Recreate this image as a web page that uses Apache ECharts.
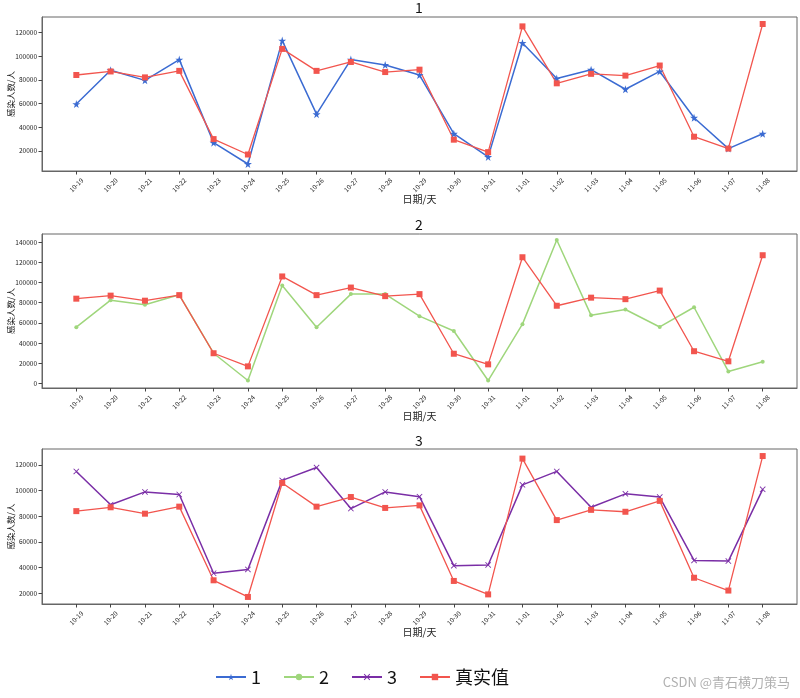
<!DOCTYPE html>
<html>
<head>
<meta charset="utf-8">
<script src="https://cdn.jsdelivr.net/npm/echarts@6/dist/echarts.min.js"></script>
<style>html,body{margin:0;padding:0;background:#fff;}#c{width:800px;height:698px;}</style>
</head>
<body>
<div id="c"></div>
<script>
const categories = ['10-19','10-20','10-21','10-22','10-23','10-24','10-25','10-26','10-27','10-28','10-29','10-30','10-31','11-01','11-02','11-03','11-04','11-05','11-06','11-07','11-08'];
const realValues = [84000, 87000, 82000, 87500, 30000, 17000, 106000, 87500, 95000, 86500, 88500, 29500, 19000, 125000, 77000, 85000, 83500, 92000, 32000, 22000, 127000];
const model1 = [59500, 88000, 79500, 97000, 27000, 9000, 113000, 51000, 97000, 92500, 84000, 34500, 15000, 111000, 81000, 88500, 72000, 87000, 48000, 22000, 34500];
const model2 = [55800, 82500, 78000, 87800, 30000, 3000, 97000, 55800, 88500, 88500, 66700, 52000, 3000, 58800, 142000, 67500, 73300, 56000, 75500, 12000, 21500];
const model3 = [115000, 89000, 99000, 97000, 35500, 38500, 108000, 118000, 86000, 99000, 95300, 41400, 42000, 104500, 115000, 87000, 97500, 95000, 45500, 45000, 101000];
const panelTitles = ['1', '2', '3'];
const yTicks1 = [20000, 40000, 60000, 80000, 100000, 120000];
const yTicks2 = [0, 20000, 40000, 60000, 80000, 100000, 120000, 140000];
const yTicks3 = [20000, 40000, 60000, 80000, 100000, 120000];
const yLabel = '感染人数/人';
const xLabel = '日期/天';
const realName = '真实值';

const FONT = '"Noto Sans CJK SC", "DejaVu Sans", sans-serif';
const colors = { m1: '#3b6bd2', m2: '#9fd67c', m3: '#7a2ea6', real: '#f2554e' };
const STAR = 'path://M50,0L61,35L98,35L68,57L79,91L50,70L21,91L32,57L2,35L39,35Z';
const XMARK = 'path://M0,1L1,0L5,4L9,0L10,1L6,5L10,9L9,10L5,6L1,10L0,9L4,5Z';

const idx = categories.map((_, i) => i);
const grids = [
  { left: 42, right: 3, top: 17, height: 154 },
  { left: 42, right: 3, top: 234, height: 154 },
  { left: 42, right: 3, top: 449, height: 155 }
].map(g => Object.assign(g, { show: true, borderColor: '#666', borderWidth: 1, backgroundColor: 'transparent', containLabel: false, outerBoundsMode: 'none' }));

const yRanges = [[3100, 132900], [-4400, 148000], [11500, 132500]];
const yTicks = [yTicks1, yTicks2, yTicks3];

const xAxes = [0, 1, 2].map(k => ({
  type: 'value', gridIndex: k, min: -1, max: 21,
  name: xLabel, nameLocation: 'middle', nameGap: 23, nameMoveOverlap: false,
  nameTextStyle: { fontFamily: FONT, fontSize: 10, color: '#222' },
  axisLine: { show: true, onZero: false, lineStyle: { color: '#666' } },
  axisTick: { show: true, length: 3.5, customValues: idx, lineStyle: { color: '#444' } },
  axisLabel: {
    customValues: idx, rotate: 45, align: 'center', verticalAlign: 'middle', margin: 14,
    fontFamily: FONT, fontSize: 6.5, color: '#222',
    formatter: v => categories[v] !== undefined ? categories[v] : ''
  },
  splitLine: { show: false }
}));

const yAxes = [0, 1, 2].map(k => ({
  type: 'value', gridIndex: k, min: yRanges[k][0], max: yRanges[k][1],
  name: yLabel, nameLocation: 'middle', nameGap: 27, nameRotate: 90, nameMoveOverlap: false,
  nameTextStyle: { fontFamily: FONT, fontSize: 8.5, color: '#222' },
  axisLine: { show: true, onZero: false, lineStyle: { color: '#666' } },
  axisTick: { show: true, length: 3.5, customValues: yTicks[k], lineStyle: { color: '#444' } },
  axisLabel: { customValues: yTicks[k], fontFamily: FONT, fontSize: 6.5, color: '#222', margin: 5, formatter: v => String(v) },
  splitLine: { show: false }
}));

function pts(arr) { return arr.map((v, i) => [i, v]); }

function mkSeries(name, data, k, color, symbol, size, width) {
  return {
    name: name, type: 'line', xAxisIndex: k, yAxisIndex: k,
    data: pts(data), symbol: symbol, symbolSize: size, showSymbol: true,
    lineStyle: { color: color, width: width }, itemStyle: { color: color },
    emphasis: { disabled: true }, animation: false
  };
}

const series = [
  mkSeries('1', model1, 0, colors.m1, STAR, 8, 1.5),
  mkSeries(realName, realValues, 0, colors.real, 'rect', 6, 1.3),
  mkSeries('2', model2, 1, colors.m2, 'circle', 4, 1.5),
  mkSeries(realName, realValues, 1, colors.real, 'rect', 6, 1.3),
  mkSeries('3', model3, 2, colors.m3, XMARK, 6, 1.5),
  mkSeries(realName, realValues, 2, colors.real, 'rect', 6, 1.3)
];

const titleStyle = { fontFamily: FONT, fontSize: 14, fontWeight: 'normal', color: '#111' };
const chart = echarts.init(document.getElementById('c'), null, { renderer: 'canvas' });
chart.setOption({
  animation: false,
  backgroundColor: '#fff',
  title: [
    { text: panelTitles[0], left: 419, top: 1, padding: 0, textAlign: 'center', textStyle: titleStyle },
    { text: panelTitles[1], left: 419, top: 218, padding: 0, textAlign: 'center', textStyle: titleStyle },
    { text: panelTitles[2], left: 419, top: 434, padding: 0, textAlign: 'center', textStyle: titleStyle }
  ],
  legend: {
    data: ['1', '2', '3', realName], left: 210, top: 663, itemWidth: 30, itemHeight: 8, itemGap: 22,
    textStyle: { fontFamily: FONT, fontSize: 18, color: '#111' }
  },
  grid: grids, xAxis: xAxes, yAxis: yAxes, series: series,
  graphic: [{ type: 'text', right: 10, top: 676, style: { text: 'CSDN @青石横刀策马', fontFamily: FONT, fontSize: 13, fill: '#b0b0b0' } }]
});
</script>
</body>
</html>
